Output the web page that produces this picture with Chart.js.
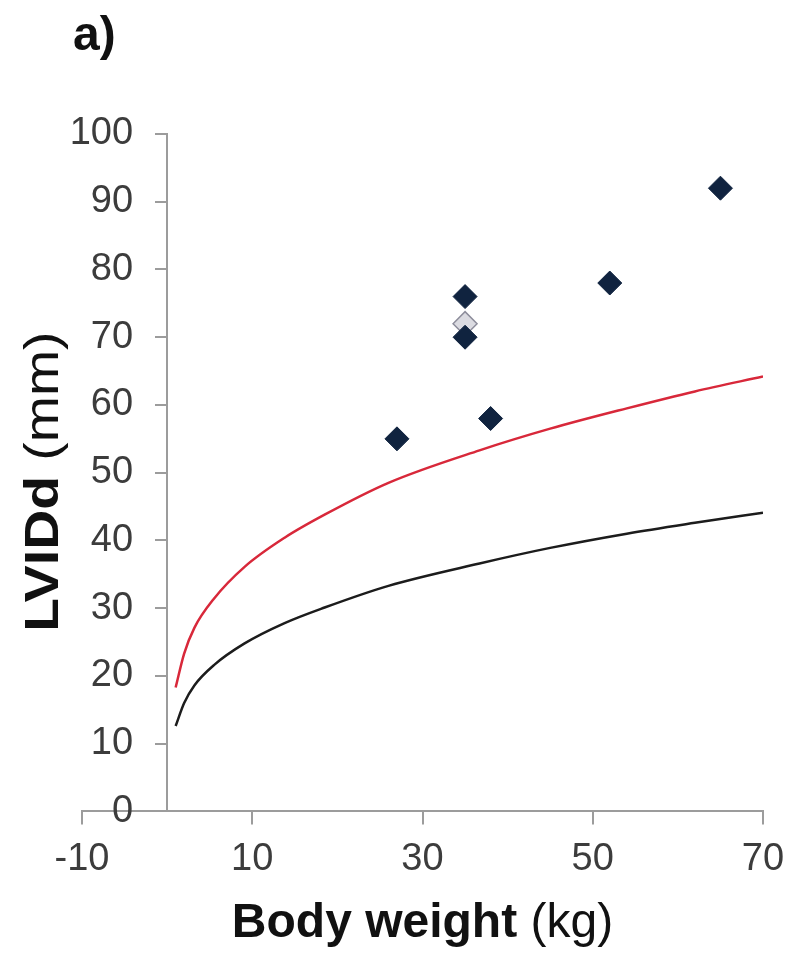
<!DOCTYPE html>
<html>
<head>
<meta charset="utf-8">
<script src="https://cdn.jsdelivr.net/npm/chart.js@4.4.1/dist/chart.umd.min.js"></script>
<style>
  html, body { margin: 0; padding: 0; background: #ffffff; }
  #wrap { width: 804px; height: 964px; }
</style>
</head>
<body>
<div id="wrap"><canvas id="c" width="804" height="964"></canvas></div>
<script>
// ---- data ----
const panelLabel = 'a)';
const xTitleBold = 'Body weight';
const xTitleUnit = '(kg)';
const yTitleBold = 'LVIDd';
const yTitleUnit = '(mm)';

// observed dogs: body weight (kg) and LVIDd (mm)
const dogWeight = [27, 35, 35, 38, 52, 65];
const dogLVIDd  = [55, 76, 70, 58, 78, 92];
// faded marker partly hidden behind the 35 kg / 70 mm point
const fadedWeight = [35];
const fadedLVIDd  = [72];

// upper reference curve (red)
const upperWeight = [1, 2, 3.2, 5.5, 9.1, 13.8, 18.5, 26, 36.7, 45, 54, 62, 70];
const upperLVIDd  = [18.3, 23.3, 27.1, 31.4, 36.1, 40.4, 43.8, 48.5, 53.3, 56.5, 59.5, 62.0, 64.2];

// mean reference curve (black)
const meanWeight = [1, 2, 3.2, 5.5, 9.1, 13.8, 18.5, 26, 36.7, 45, 54, 62, 70];
const meanLVIDd  = [12.6, 16.0, 18.6, 21.6, 24.8, 27.8, 30.1, 33.3, 36.6, 38.9, 41.0, 42.6, 44.1];

const xMin = -10, xMax = 70, xStep = 20;
const yMin = 0, yMax = 100, yStep = 10;

const toPts = (xs, ys) => xs.map((x, i) => ({x: x, y: ys[i]}));

const AXIS_GREY = '#9c9c9c';
const FAMILY = '"Liberation Sans", Arial, sans-serif';
const TICK_FONT = {family: FAMILY, size: 38};
const Y_TICK_LEN = 11, Y_TICK_PAD = 23;

// y axis sits at x = 0; move its labels outside the tick marks
const yLabelShift = {
  id: 'yLabelShift',
  beforeDraw(chart) {
    const ys = chart.scales.y;
    const items = ys.getLabelItems();
    if (items && !items._shifted) {
      items.forEach(it => { it.options.translation[0] -= (Y_TICK_LEN + Y_TICK_PAD); });
      items._shifted = true;
    }
  }
};

const titlesPlugin = {
  id: 'titles',
  afterDraw(chart) {
    const ctx = chart.ctx;
    ctx.save();
    ctx.fillStyle = '#111111';
    ctx.textBaseline = 'alphabetic';
    // panel label
    ctx.font = 'bold 48px ' + FAMILY;
    ctx.textAlign = 'left';
    ctx.fillText(panelLabel, 73, 50);

    // x axis title: bold part + regular unit
    const xs = chart.scales.x;
    const cx = (xs.left + xs.right) / 2;
    ctx.font = 'bold 48px ' + FAMILY;
    const wB = ctx.measureText(xTitleBold + ' ').width;
    ctx.font = '48px ' + FAMILY;
    const wU = ctx.measureText(xTitleUnit).width;
    const sx = cx - (wB + wU) / 2;
    ctx.font = 'bold 48px ' + FAMILY;
    ctx.fillText(xTitleBold + ' ', sx, 937);
    ctx.font = '48px ' + FAMILY;
    ctx.fillText(xTitleUnit, sx + wB, 937);

    // y axis title (rotated)
    const ys = chart.scales.y;
    const cy = (ys.top + ys.bottom) / 2 + 9;
    ctx.translate(58, cy);
    ctx.rotate(-Math.PI / 2);
    ctx.scale(1.13, 1);
    ctx.font = 'bold 49px ' + FAMILY;
    const wYB = ctx.measureText(yTitleBold + ' ').width;
    ctx.font = '49px ' + FAMILY;
    const wYU = ctx.measureText(yTitleUnit).width;
    const sy = -(wYB + wYU) / 2;
    ctx.font = 'bold 49px ' + FAMILY;
    ctx.fillText(yTitleBold + ' ', sy, 0);
    ctx.font = '49px ' + FAMILY;
    ctx.fillText(yTitleUnit, sy + wYB, 0);
    ctx.restore();
  }
};

new Chart(document.getElementById('c'), {
  type: 'scatter',
  data: {
    datasets: [
      {
        label: 'Dogs',
        data: toPts(dogWeight, dogLVIDd),
        pointStyle: 'rectRot',
        pointRadius: 12,
        pointBackgroundColor: '#10233f',
        pointBorderColor: '#10233f',
        pointBorderWidth: 1,
        showLine: false
      },
      {
        label: 'Dogs (faded)',
        data: toPts(fadedWeight, fadedLVIDd),
        pointStyle: 'rectRot',
        pointRadius: 12,
        pointBackgroundColor: 'rgba(215,215,222,0.9)',
        pointBorderColor: '#8e8e9c',
        pointBorderWidth: 1.5,
        showLine: false
      },
      {
        label: 'Upper limit',
        data: toPts(upperWeight, upperLVIDd),
        showLine: true,
        borderColor: '#d8283a',
        borderWidth: 2.5,
        pointRadius: 0,
        cubicInterpolationMode: 'monotone',
        fill: false
      },
      {
        label: 'Mean',
        data: toPts(meanWeight, meanLVIDd),
        showLine: true,
        borderColor: '#1c1c1c',
        borderWidth: 2.5,
        pointRadius: 0,
        cubicInterpolationMode: 'monotone',
        fill: false
      }
    ]
  },
  options: {
    responsive: false,
    animation: false,
    events: [],
    layout: { padding: { left: 82, right: 41, top: 134, bottom: 70 } },
    plugins: {
      legend: { display: false },
      tooltip: { enabled: false },
      title: { display: false }
    },
    scales: {
      x: {
        type: 'linear',
        position: 'bottom',
        min: xMin, max: xMax,
        ticks: { stepSize: xStep, color: '#3c3c3c', font: TICK_FONT, padding: 12, maxRotation: 0 },
        grid: { display: true, drawOnChartArea: false, drawTicks: true, tickLength: 13, color: AXIS_GREY, lineWidth: 2 },
        border: { display: true, color: AXIS_GREY, width: 2 }
      },
      y: {
        type: 'linear',
        position: { x: 0 },
        min: yMin, max: yMax,
        ticks: { stepSize: yStep, color: '#3c3c3c', font: TICK_FONT, padding: Y_TICK_PAD },
        grid: { display: true, drawOnChartArea: false, drawTicks: true, tickLength: Y_TICK_LEN, color: AXIS_GREY, lineWidth: 2 },
        border: { display: true, color: AXIS_GREY, width: 2 }
      }
    }
  },
  plugins: [yLabelShift, titlesPlugin]
});
</script>
</body>
</html>
